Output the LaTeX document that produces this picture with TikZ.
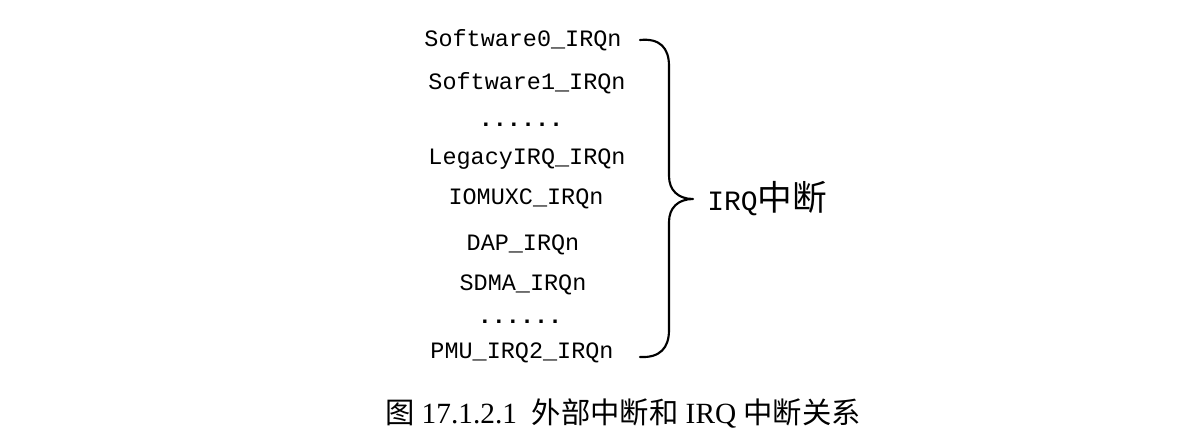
\documentclass[tikz,border=0pt]{standalone}
\usepackage{fontspec}
\setmainfont{Liberation Serif}
\newfontfamily\monofnt{Liberation Mono}
\newfontfamily\cjk{Noto Sans CJK SC}
\begin{document}
\begin{tikzpicture}[x=0.75pt,y=-0.75pt,
  item/.style={inner sep=0pt,anchor=center,font=\monofnt\fontsize{17.6}{20}\selectfont},
  dots/.style={item,font=\monofnt\bfseries\fontsize{17.6}{20}\selectfont},
  bracepath/.style={line width=1.6pt,line cap=round,line join=round}]
\useasboundingbox (0,0) rectangle (1198,439);
\node[item] (s0) at (523,40) {Software0\_IRQn};
\node[item] (s1) at (527,83) {Software1\_IRQn};
\node[dots] (d1) at (521,125) {......};
\node[item] (lg) at (527,159) {LegacyIRQ\_IRQn};
\node[item] (io) at (526,199) {IOMUXC\_IRQn};
\node[item] (dap) at (523,245) {DAP\_IRQn};
\node[item] (sd) at (523,285) {SDMA\_IRQn};
\node[dots] (d2) at (520,322) {......};
\node[item] (pmu) at (522,353) {PMU\_IRQ2\_IRQn};
\coordinate (bt) at (640,40);
\coordinate (bb) at (640,357);
\coordinate (tip) at (693,199);
\draw[bracepath] (bt) .. controls (660,38) and (669,48) .. (669,66)
  -- (669,176) .. controls (669,190) and (678,199) .. (tip)
  .. controls (678,199) and (669,208) .. (669,222)
  -- (669,330) .. controls (669,348) and (660,358) .. (bb);
\node[inner sep=0pt,anchor=west] (irq) at (707,199)
  {{\monofnt\fontsize{21}{24}\selectfont IRQ}{\cjk\fontsize{26}{28}\selectfont 中断}};
\node[inner sep=0pt,anchor=center] (cap) at (623,413)
  {\fontsize{22}{24}\selectfont {\cjk 图} 17.1.2.1\ \ {\cjk 外部中断和} IRQ {\cjk 中断关系}};
\end{tikzpicture}
\end{document}
